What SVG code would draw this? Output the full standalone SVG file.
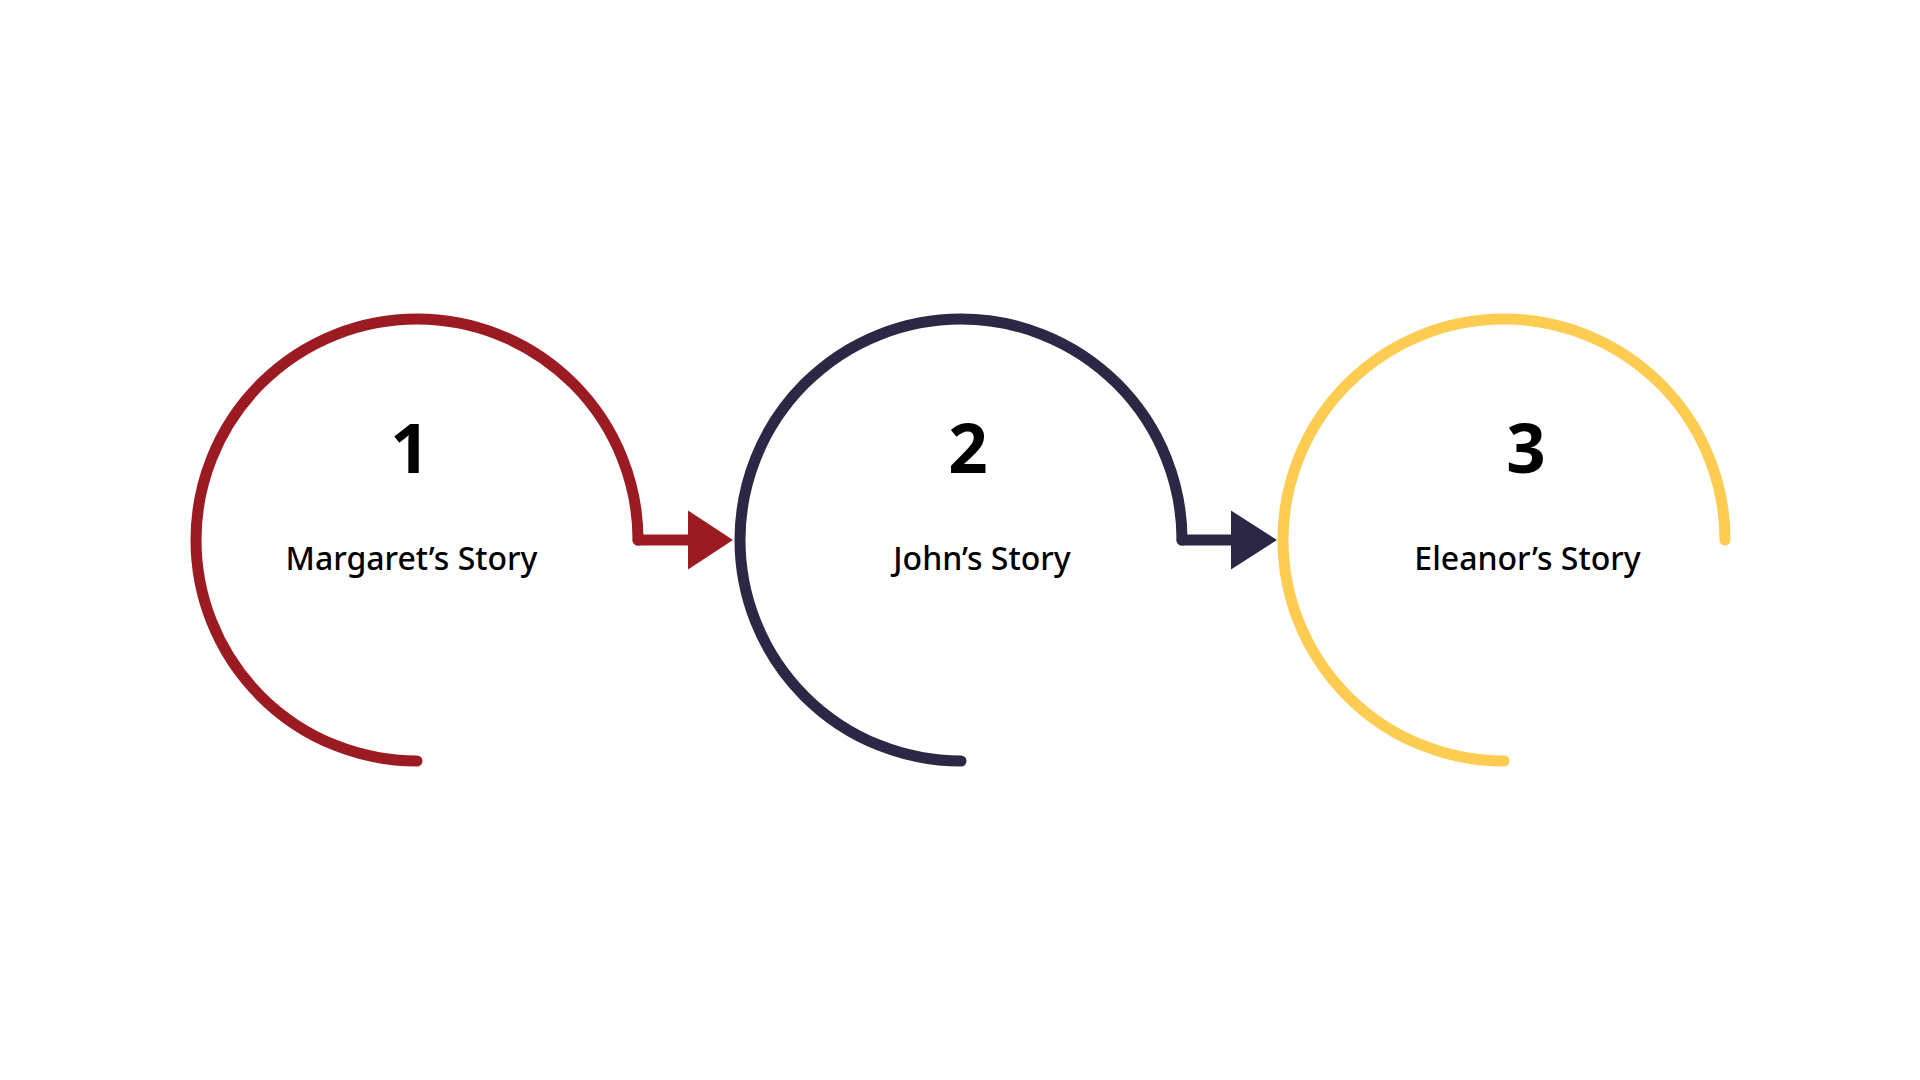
<svg xmlns="http://www.w3.org/2000/svg" width="1920" height="1080" viewBox="0 0 1920 1080">
<style>
.arc{fill:none;stroke-width:11;stroke-linecap:round;stroke-linejoin:round}
.num{font-family:"Noto Sans","Open Sans",sans-serif;font-weight:700;font-size:69px;fill:#000;text-anchor:middle}
.lbl{font-family:"Noto Sans","Open Sans",sans-serif;font-weight:500;font-size:32px;fill:#000;text-anchor:middle}
.red{stroke:#9C1B22}
.navy{stroke:#2B2744}
.yel{stroke:#FECC50}
</style>
<rect width="1920" height="1080" fill="#fff"/>
<g id="node1">
<path class="arc red" d="M417 761 A221 221 0 1 1 638 540"/>
<text class="num" x="410" y="473">1</text>
<text class="lbl" x="411.5" y="570">Margaret’s Story</text>
</g>
<g id="node2">
<path class="arc navy" d="M961 761 A221 221 0 1 1 1182 540"/>
<text class="num" x="968" y="473">2</text>
<text class="lbl" x="982" y="570">John’s Story</text>
</g>
<g id="node3">
<path class="arc yel" d="M1504 761 A221 221 0 1 1 1725 540"/>
<text class="num" x="1526" y="473">3</text>
<text class="lbl" x="1527.5" y="570">Eleanor’s Story</text>
</g>
<g id="connectors">
<path class="arc red" d="M638 540 L690 540"/>
<polygon points="688,510.5 733,540 688,569.5" fill="#9C1B22"/>
<path class="arc navy" d="M1182 540 L1233 540"/>
<polygon points="1231,510.5 1277,540 1231,569.5" fill="#2B2744"/>
</g>
</svg>
